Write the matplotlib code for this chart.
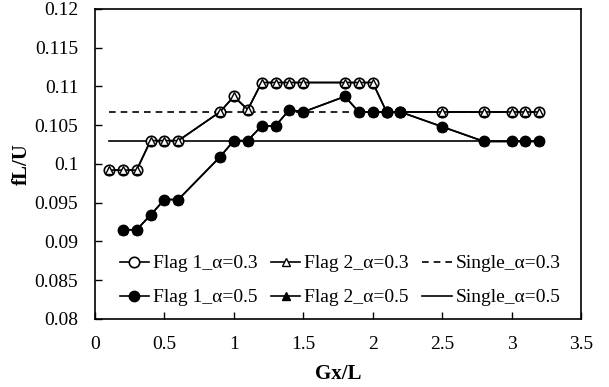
import matplotlib
matplotlib.use("Agg")
import matplotlib.pyplot as plt

plt.rcParams['font.family'] = ['Liberation Serif', 'DejaVu Serif']

# Flag series, alpha = 0.3 (Flag 1 and Flag 2 coincide)
x_03 = [0.1, 0.2, 0.3, 0.4, 0.5, 0.6, 0.9, 1.0, 1.1, 1.2, 1.3, 1.4, 1.5,
        1.8, 1.9, 2.0, 2.1, 2.2, 2.5, 2.8, 3.0, 3.1, 3.2]
flag1_03 = [0.0992, 0.0992, 0.0992, 0.1030, 0.1030, 0.1030, 0.1067, 0.1087, 0.1070,
            0.1105, 0.1105, 0.1105, 0.1105, 0.1105, 0.1105, 0.1105, 0.1067, 0.1067,
            0.1067, 0.1067, 0.1067, 0.1067, 0.1067]
flag2_03 = list(flag1_03)

# Flag series, alpha = 0.5
x_05 = [0.2, 0.3, 0.4, 0.5, 0.6, 0.9, 1.0, 1.1, 1.2, 1.3, 1.4, 1.5,
        1.8, 1.9, 2.0, 2.1, 2.2, 2.5, 2.8, 3.0, 3.1, 3.2]
flag1_05 = [0.0915, 0.0915, 0.0934, 0.0954, 0.0954, 0.1009, 0.1030, 0.1030, 0.1049,
            0.1049, 0.1070, 0.1067, 0.1087, 0.1067, 0.1067, 0.1067, 0.1067, 0.1048,
            0.1029, 0.1029, 0.1029, 0.1029]
flag2_05 = list(flag1_05)

# Single plate references
x_single = [0.1, 3.2]
single_03 = [0.1067, 0.1067]
single_05 = [0.1030, 0.1030]

x_ticks = [0, 0.5, 1, 1.5, 2, 2.5, 3, 3.5]
x_ticklabels = ['0', '0.5', '1', '1.5', '2', '2.5', '3', '3.5']
y_ticks = [0.08, 0.085, 0.09, 0.095, 0.1, 0.105, 0.11, 0.115, 0.12]
y_ticklabels = ['0.08', '0.085', '0.09', '0.095', '0.1', '0.105', '0.11', '0.115', '0.12']

fig = plt.figure(figsize=(6.09, 3.87), dpi=100)
ax = fig.add_axes([0.156, 0.176, 0.798, 0.801])

lw = 1.2
ms = 7.5
h_s03, = ax.plot(x_single, single_03, color='black', lw=lw, ls=(0, (4, 3)), label='Single_α=0.3')
h_s05, = ax.plot(x_single, single_05, color='black', lw=lw, ls='-', label='Single_α=0.5')
h_f1_03, = ax.plot(x_03, flag1_03, color='black', lw=lw, marker='o', ms=ms,
                   mfc='white', mec='black', mew=1.2, label='Flag 1_α=0.3')
h_f2_03, = ax.plot(x_03, flag2_03, color='black', lw=lw, marker='^', ms=5.5,
                   mfc='white', mec='black', mew=1.0, label='Flag 2_α=0.3')
h_f1_05, = ax.plot(x_05, flag1_05, color='black', lw=lw, marker='o', ms=ms,
                   mfc='black', mec='black', label='Flag 1_α=0.5')
h_f2_05, = ax.plot(x_05, flag2_05, color='black', lw=lw, marker='^', ms=5.5,
                   mfc='black', mec='black', label='Flag 2_α=0.5')

ax.set_xlim(0, 3.5)
ax.set_ylim(0.08, 0.12)
ax.set_xticks(x_ticks)
ax.set_xticklabels(x_ticklabels)
ax.set_yticks(y_ticks)
ax.set_yticklabels(y_ticklabels)
ax.tick_params(direction='in', length=5, width=1, labelsize=14)
ax.tick_params(axis='x', pad=12)
ax.tick_params(axis='y', pad=12)
for s in ax.spines.values():
    s.set_linewidth(1.2)

ax.set_xlabel('Gx/L', fontsize=15, fontweight='bold', labelpad=8)
ax.set_ylabel('fL/U', fontsize=15, fontweight='bold', labelpad=2)

handles = [h_f1_03, h_f1_05, h_f2_03, h_f2_05, h_s03, h_s05]
labels = [h.get_label() for h in handles]
ax.legend(handles, labels, ncol=3, loc='lower left', bbox_to_anchor=(0.035, 0.015),
          frameon=False, fontsize=14, handlelength=1.5, handletextpad=0.2,
          columnspacing=0.7, labelspacing=0.85, borderaxespad=0.2, borderpad=0.2)

fig.savefig('out.png', dpi=100)
